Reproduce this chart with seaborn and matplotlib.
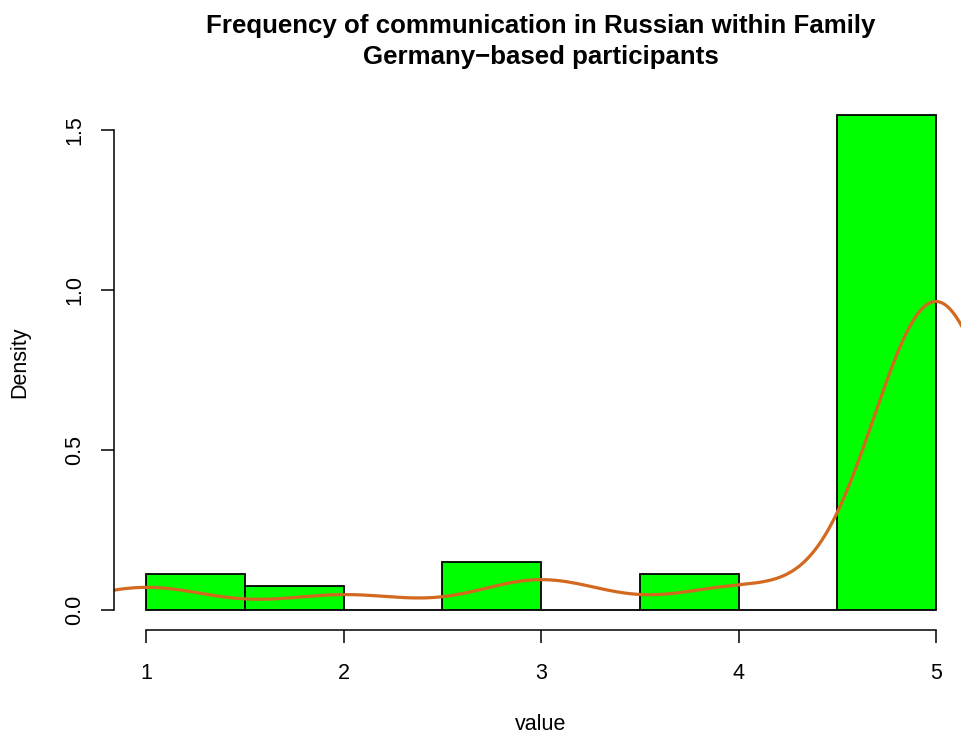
import numpy as np
import matplotlib
matplotlib.use("Agg")
import matplotlib.pyplot as plt
import seaborn as sns

# Answers on a 1-5 scale and how many participants gave each one
scores = [1, 2, 3, 4, 5]
counts = [3, 2, 4, 3, 41]
breaks = [1.0, 1.5, 2.0, 2.5, 3.0, 3.5, 4.0, 4.5, 5.0]
x_ticks = [1, 2, 3, 4, 5]
y_ticks = [0.0, 0.5, 1.0, 1.5]
kde_bandwidth = 0.32

title_lines = ["Frequency of communication in Russian within Family",
               "Germany\u2212based participants"]
x_label = "value"
y_label = "Density"

sns.set_style("white")
plt.rcParams["font.family"] = ["Liberation Sans", "DejaVu Sans"]
plt.rcParams["text.color"] = "black"

W, H = 962, 734
fig = plt.figure(figsize=(W / 100, H / 100), dpi=100)

base_fs = 15.5
title_fs = 18.6

# plot region in pixels (left, top, right, bottom)
pl, pt, pr, pb = 114.5, 95.5, 967.6, 629.8
ax = fig.add_axes([pl / W, 1 - pb / H, (pr - pl) / W, (pb - pt) / H])

values = np.repeat(scores, counts)
edges = np.asarray(breaks)
# right-closed bins, the first one closed on both sides
idx = np.clip(np.searchsorted(edges, values, side="left") - 1, 0, len(edges) - 2)
mids = (edges[idx] + edges[idx + 1]) / 2

sns.histplot(x=mids, bins=edges, stat="density", color="#00FF00",
             edgecolor="black", linewidth=1.3, alpha=1, ax=ax)

factor = kde_bandwidth / np.std(values, ddof=1)
sns.kdeplot(x=values, bw_method=factor, color="#D2691E", linewidth=2.3,
            cut=3, gridsize=400, ax=ax)

dens_max = max(counts) / (len(values) * (edges[1] - edges[0]))
span = edges[-1] - edges[0]
ax.set_xlim(edges[0] - 0.04 * span, edges[-1] + 0.04 * span)
ax.set_ylim(-0.04 * dens_max, 1.04 * dens_max)

for s in ["top", "right"]:
    ax.spines[s].set_visible(False)
for s in ["left", "bottom"]:
    ax.spines[s].set_color("black")
    ax.spines[s].set_linewidth(1.1)
ax.spines["left"].set_bounds(y_ticks[0], y_ticks[-1])
ax.spines["bottom"].set_bounds(x_ticks[0], x_ticks[-1])

ax.set_xticks(x_ticks)
ax.set_xticklabels([str(v) for v in x_ticks])
ax.set_yticks(y_ticks)
ax.set_yticklabels([f"{v:.1f}" for v in y_ticks])
ax.tick_params(axis="both", bottom=True, left=True, direction="out",
               length=9.6, width=1.1, color="black", labelsize=base_fs,
               labelcolor="black")
ax.tick_params(axis="x", pad=14)
ax.tick_params(axis="y", pad=11.5, labelrotation=90)
for lbl in ax.get_yticklabels():
    lbl.set_va("center")

ax.set_xlabel(x_label, fontsize=base_fs, color="black")
ax.set_ylabel(y_label, fontsize=base_fs, color="black")
ax.xaxis.set_label_coords((pl + pr) / 2 / W, 1 - 724 / H, transform=fig.transFigure)
ax.xaxis.label.set_va("center")
ax.yaxis.set_label_coords(20 / W, 1 - 362 / H, transform=fig.transFigure)
ax.yaxis.label.set_va("center")

fig.text((pl + pr) / 2 / W, 1 - 33.3 / H, title_lines[0], ha="center",
         va="baseline", fontsize=title_fs, fontweight="bold", color="black")
fig.text((pl + pr) / 2 / W, 1 - 64.3 / H, title_lines[1], ha="center",
         va="baseline", fontsize=title_fs, fontweight="bold", color="black")

fig.savefig("out.png", dpi=100)
